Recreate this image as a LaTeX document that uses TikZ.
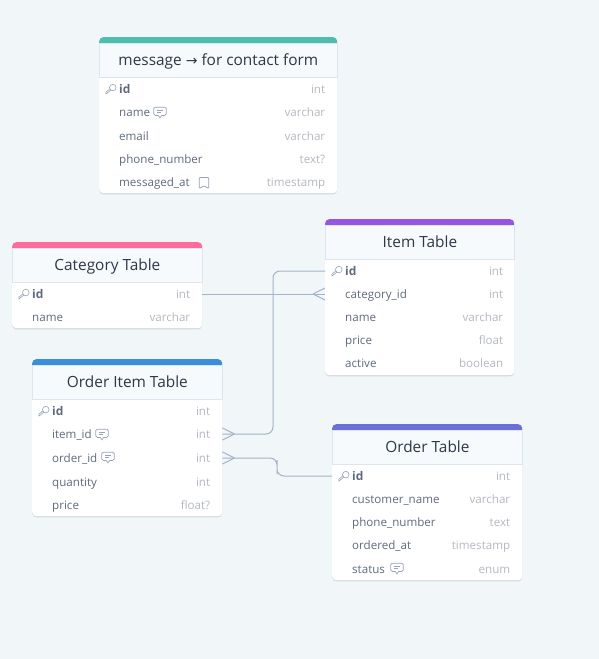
\documentclass[tikz,border=0pt]{standalone}
\usepackage{fontspec}
\setmainfont{Open Sans}
\newfontfamily\symfont{DejaVu Sans}
\usetikzlibrary{calc,shadows}
\definecolor{pagebg}{HTML}{F1F6F9}
\definecolor{headbg}{HTML}{F7FAFC}
\definecolor{headline}{HTML}{DDE5EE}
\definecolor{titletext}{HTML}{2D3748}
\definecolor{nametext}{HTML}{5F6B7C}
\definecolor{typetext}{HTML}{B4B9C0}
\definecolor{relline}{HTML}{A5B3C6}
\definecolor{iconline}{HTML}{97A3B5}
\definecolor{barTeal}{HTML}{4DBDB0}
\definecolor{barPink}{HTML}{FF6B9C}
\definecolor{barViolet}{HTML}{9556E2}
\definecolor{barBlue}{HTML}{3B8EDC}
\definecolor{barIndigo}{HTML}{6A70D8}
\tikzset{
	card/.style={anchor=north west, fill=white, rounded corners=4pt, inner sep=0pt,
		drop shadow={shadow xshift=0pt, shadow yshift=-1.2pt, opacity=.22, fill=black!55}},
	cardbar/.style={anchor=north west, rounded corners=4pt, inner sep=0pt, minimum height=12pt},
	cardhead/.style={anchor=north west, fill=headbg, draw=headline, line width=.8pt, inner sep=0pt,
		minimum height=34pt, text=titletext, text height=13pt, text depth=2pt,
		font=\fontsize{15.4}{18}\selectfont},
	rowtext/.style={anchor=west, inner xsep=20pt, inner ysep=0pt, text width=150pt, align=left,
		text height=10pt, text depth=2pt, text=nametext, font=\fontsize{11.6}{14}\selectfont},
	rowwide/.style={rowtext, text width=198pt},
	rowkey/.style={rowtext, font=\fontsize{12}{14}\selectfont\bfseries},
	rowkeywide/.style={rowkey, text width=198pt},
	rowtype/.style={anchor=east, xshift=-12pt, inner sep=0pt, text height=10pt, text depth=2pt,
		text=typetext, font=\fontsize{11.6}{14}\selectfont},
	rel/.style={draw=relline, line width=1pt},
	keyicon/.pic={
		\draw [iconline, line width=.6pt] (1.8,-1.4) circle (3.3pt);
		\draw [iconline, line width=.6pt] (-0.2,1.2) -- (-5,5) -- (-5.2,3.2) -- (-1,-.2);
	},
	noteicon/.pic={
		\draw [iconline, line width=.7pt, rounded corners=1.5pt] (-6.3,-4.8) rectangle (6.3,3.4);
		\fill [white] (-1.8,2.8) rectangle (1.8,4.2);
		\draw [iconline, line width=.7pt] (-1.8,3.4) -- (0,5.8) -- (1.8,3.4);
		\draw [iconline, line width=.6pt] (-3.4,-2) -- (3.4,-2) (-3.4,.5) -- (1,.5);
	},
	bookicon/.pic={
		\draw [iconline, line width=.8pt, rounded corners=1pt, line join=round] (-4.8,5.5) -- (-4.8,-5.5) -- (4.8,-5.5) -- (4.8,5.5) -- (0,2.8) -- cycle;
	},
}
\newcommand{\dbcard}[7]{
	\node (#1) [card, minimum width=#4, minimum height=#5] at (#2,#3) {};
	\node (#1Bar) [cardbar, fill=#6, minimum width=#4] at (#1.north west) {};
	\node (#1Head) [cardhead, minimum width=#4] at ($(#1.north west)+(0,6)$) {#7};
}
\newcommand{\dbrow}[6][rowtext]{
	\node (#2) [#1] at (#3,#4) {#5};
	\node (#2Type) [rowtype] at (#2.east) {#6};
}
\begin{document}
\begin{tikzpicture}[x=1pt,y=-1pt]
	\useasboundingbox [fill=pagebg] (0,0) rectangle (599,659);

	\dbcard{msg}{99}{37}{238}{156}{barTeal}{message {\symfont\fontsize{14}{18}\selectfont →} for contact form}
	\dbrow[rowkeywide]{msgId}{99}{89}{id}{int}
	\dbrow[rowwide]{msgName}{99}{112}{name}{varchar}
	\dbrow[rowwide]{msgEmail}{99}{136}{email}{varchar}
	\dbrow[rowwide]{msgPhone}{99}{159}{phone\_number}{text?}
	\dbrow[rowwide]{msgAt}{99}{182}{messaged\_at}{timestamp}

	\dbcard{cat}{12}{242}{190}{86}{barPink}{Category Table}
	\dbrow[rowkey]{catId}{12}{294}{id}{int}
	\dbrow{catName}{12}{317}{name}{varchar}

	\dbcard{item}{325}{219}{189}{156}{barViolet}{Item Table}
	\dbrow[rowkey]{itemId}{325}{271}{id}{int}
	\dbrow{itemCat}{325}{294}{category\_id}{int}
	\dbrow{itemName}{325}{317}{name}{varchar}
	\dbrow{itemPrice}{325}{340}{price}{float}
	\dbrow{itemActive}{325}{363}{active}{boolean}

	\dbcard{line}{32}{359}{190}{157}{barBlue}{Order Item Table}
	\dbrow[rowkey]{lineId}{32}{411}{id}{int}
	\dbrow{lineItem}{32}{434}{item\_id}{int}
	\dbrow{lineOrder}{32}{458}{order\_id}{int}
	\dbrow{lineQty}{32}{482}{quantity}{int}
	\dbrow{linePrice}{32}{505}{price}{float?}

	\dbcard{ord}{332}{424}{190}{156}{barIndigo}{Order Table}
	\dbrow[rowkey]{ordId}{332}{476}{id}{int}
	\dbrow{ordCust}{332}{499}{customer\_name}{varchar}
	\dbrow{ordPhone}{332}{522}{phone\_number}{text}
	\dbrow{ordAt}{332}{545}{ordered\_at}{timestamp}
	\dbrow{ordStatus}{332}{569}{status}{enum}

	% icons
	\pic at (111,89) {keyicon};
	\pic at (24,294) {keyicon};
	\pic at (337,271) {keyicon};
	\pic at (44,411) {keyicon};
	\pic at (344,476) {keyicon};
	\pic at (160,112) {noteicon};
	\pic at (102,434) {noteicon};
	\pic at (108,457) {noteicon};
	\pic at (397,568) {noteicon};
	\pic at (204,183) {bookicon};

	% relations
	\coordinate (turnA) at (273,350);
	\coordinate (turnB) at (277,467);
	\draw [rel] (catId.east) -- (itemCat.west);
	\draw [rel, rounded corners=7pt] (itemId.west) -| (turnA) |- (lineItem.east);
	\draw [rel, rounded corners=7pt] (lineOrder.east) -| (turnB) |- (ordId.west);
	\draw [rel] (itemCat.west) ++(-12,0) -- +(12,-6) ++(0,0) -- +(12,6);
	\draw [rel] (lineItem.east) ++(12,0) -- +(-12,-6) ++(0,0) -- +(-12,6);
	\draw [rel] (lineOrder.east) ++(12,0) -- +(-12,-6) ++(0,0) -- +(-12,6);
\end{tikzpicture}
\end{document}
